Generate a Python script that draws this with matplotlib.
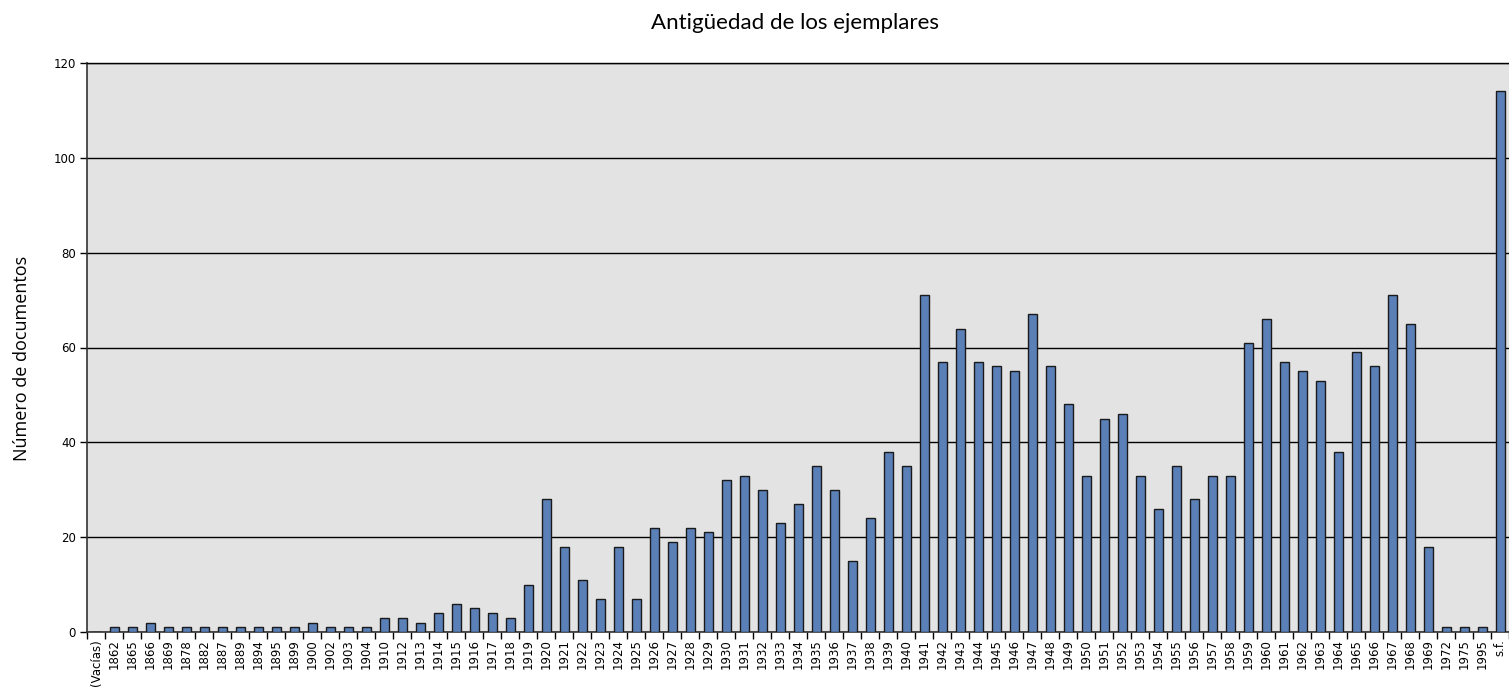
import matplotlib.pyplot as plt
import numpy as np

years = ["(Vacías)", "1862", "1865", "1866", "1869", "1878", "1882", "1887", "1889",
         "1894", "1895", "1899", "1900", "1902", "1903", "1904", "1910", "1912"]
years += [str(y) for y in range(1913, 1970)]
years += ["1972", "1975", "1995", "s.f."]

counts = [0, 1, 1, 2, 1, 1, 1, 1, 1,
          1, 1, 1, 2, 1, 1, 1, 3, 3,
          2, 4, 6, 5, 4, 3, 10,            # 1913-1919
          28, 18, 11, 7, 18, 7, 22, 19, 22, 21,   # 1920-1929
          32, 33, 30, 23, 27, 35, 30, 15, 24, 38,  # 1930-1939
          35, 71, 57, 64, 57, 56, 55, 67, 56, 48,  # 1940-1949
          33, 45, 46, 33, 26, 35, 28, 33, 33, 61,  # 1950-1959
          66, 57, 55, 53, 38, 59, 56, 71, 65, 18,  # 1960-1969
          1, 1, 1, 114]

y_ticks = [0, 20, 40, 60, 80, 100, 120]

fig = plt.figure(figsize=(15.09, 6.87), dpi=100)
ax = fig.add_axes([87 / 1509, 1 - 632 / 687, 1 - 87 / 1509, (632 - 63) / 687])
ax.set_facecolor("#E3E3E3")

x = np.arange(len(years))
ax.bar(x, counts, width=0.5, color="#5B80B8", edgecolor="#1a1a1a", linewidth=1, zorder=3)

ax.set_xlim(-0.5, len(years) - 0.5)
ax.set_ylim(0, 120)
ax.set_yticks(y_ticks)
ax.yaxis.grid(True, color="black", linewidth=1, zorder=1)
ax.tick_params(axis="y", labelsize=8.5, length=5, width=1, direction="out", pad=3)

# tick marks between categories, labels at centers
ax.set_xticks(np.arange(len(years) + 1) - 0.5)
ax.set_xticklabels([])
ax.set_xticks(x, minor=True)
ax.set_xticklabels(years, minor=True, rotation=90, fontsize=8.5)
ax.tick_params(axis="x", which="major", length=5, width=1, direction="out")
ax.tick_params(axis="x", which="minor", length=0, pad=5)

for s in ["left", "bottom"]:
    ax.spines[s].set_color("#333333")
    ax.spines[s].set_linewidth(1.2)
ax.spines["top"].set_linewidth(1)
ax.spines["right"].set_visible(False)

fig.text(795 / 1509, 1 - 23 / 687, "Antigüedad de los ejemplares", ha="center", va="center",
         fontsize=16, family="Lato")
fig.text(22 / 1509, 1 - 358 / 687, "Número de documentos", ha="center", va="center",
         rotation=90, fontsize=13, family="Open Sans")

plt.savefig("out.png", dpi=100)
